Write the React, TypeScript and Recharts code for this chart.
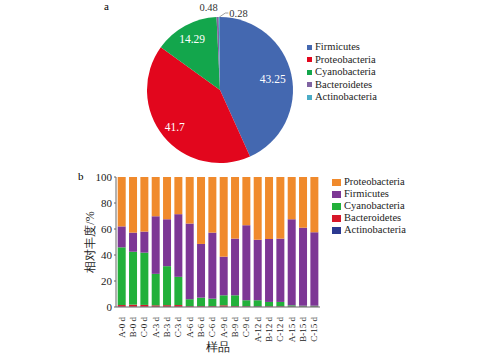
import { PieChart, Pie, Cell, BarChart, Bar, XAxis, YAxis, Legend } from 'recharts';

// panel a: whole-period phylum share (%)
const pieNames = ['Firmicutes', 'Proteobacteria', 'Cyanobacteria', 'Bacteroidetes', 'Actinobacteria'];
const pieValues = [43.25, 41.7, 14.29, 0.48, 0.28];
const pieColors = ['#4468b0', '#e2061d', '#13a64c', '#8064a2', '#4bacc6'];

// panel b: per-sample relative abundance (%)
const samples = [
  'A-0 d', 'B-0 d', 'C-0 d', 'A-3 d', 'B-3 d', 'C-3 d', 'A-6 d', 'B-6 d', 'C-6 d',
  'A-9 d', 'B-9 d', 'C-9 d', 'A-12 d', 'B-12 d', 'C-12 d', 'A-15 d', 'B-15 d', 'C-15 d',
];
const actino = [0.3, 0.3, 0.3, 0.3, 0.3, 0.3, 0.3, 0.3, 0.3, 0.3, 0.3, 0.3, 0.3, 0.3, 0.3, 0.3, 0.3, 0.3];
const bactero = [1.2, 1.5, 1.3, 1.0, 1.1, 1.2, 0.4, 0.4, 0.4, 1.0, 0.4, 0.3, 0.3, 0.3, 0.3, 0.2, 0.2, 0.2];
const cyano = [44.4, 40.7, 40.2, 24.2, 30.0, 21.7, 5.3, 6.5, 5.7, 7.7, 8.3, 4.6, 4.6, 3.3, 3.3, 0.8, 0.5, 0.5];
const firmi = [16.1, 14.7, 16.2, 44.3, 36.1, 48.2, 58.2, 41.3, 50.8, 29.7, 43.6, 57.7, 46.6, 48.4, 48.7, 66.2, 60.0, 56.5];
const proteo = [38.0, 42.8, 42.0, 30.2, 32.5, 28.6, 35.8, 51.5, 42.8, 61.3, 47.4, 37.1, 48.2, 47.7, 47.4, 32.5, 39.0, 42.5];
const yTicks = [0, 20, 40, 60, 80, 100];

const barSeries = [
  { key: 'Actinobacteria', color: '#2b3990' },
  { key: 'Bacteroidetes', color: '#d7182a' },
  { key: 'Cyanobacteria', color: '#22b03a' },
  { key: 'Firmicutes', color: '#7d3795' },
  { key: 'Proteobacteria', color: '#f08a2c' },
];

const pieData = pieNames.map((name, i) => ({ name, value: pieValues[i], fill: pieColors[i] }));
const barData = samples.map((s, i) => ({
  sample: s,
  Actinobacteria: actino[i],
  Bacteroidetes: bactero[i],
  Cyanobacteria: cyano[i],
  Firmicutes: firmi[i],
  Proteobacteria: proteo[i],
}));

const FONT = '"Liberation Serif", "Times New Roman", serif';
const RAD = Math.PI / 180;

function pieLabel(props: any) {
  const { cx, cy, midAngle, outerRadius, index, value } = props;
  const cos = Math.cos(-midAngle * RAD);
  const sin = Math.sin(-midAngle * RAD);
  if (index < 3) {
    const r = outerRadius * (index === 0 ? 0.74 : 0.8);
    return (
      <text x={cx + r * cos} y={cy + r * sin} fill="#fff" fontSize={11.5} fontFamily={FONT}
        textAnchor="middle" dominantBaseline="central">
        {value}
      </text>
    );
  }
  const px = cx + outerRadius * cos;
  const py = cy + outerRadius * sin;
  if (index === 3) {
    return (
      <text x={px - 9} y={py - 10} fill="#333" fontSize={10.5} fontFamily={FONT}
        textAnchor="middle" dominantBaseline="central">
        {value}
      </text>
    );
  }
  return (
    <g>
      <polyline points={`${px},${py} ${px + 6},${py - 4} ${px + 9},${py - 4}`} stroke="#888" fill="none" strokeWidth={0.8} />
      <text x={px + 10} y={py - 4} fill="#333" fontSize={10.5} fontFamily={FONT} dominantBaseline="central">
        {value}
      </text>
    </g>
  );
}

// legend content keeps the drawing order instead of the default alphabetical sort
function makeLegend(order: string[], box: { w: number; h: number }, lineHeight: number) {
  return function LegendBox({ payload }: any) {
    const items = [...(payload || [])].sort((a: any, b: any) => order.indexOf(a.value) - order.indexOf(b.value));
    return (
      <div style={{ fontFamily: FONT, fontSize: 10.5, color: '#222', lineHeight: `${lineHeight}px` }}>
        {items.map((p: any) => (
          <div key={p.value} style={{ display: 'flex', alignItems: 'center', whiteSpace: 'nowrap' }}>
            <span style={{ width: box.w, height: box.h, background: p.color, marginRight: 3, display: 'inline-block' }} />
            {p.value}
          </div>
        ))}
      </div>
    );
  };
}

const PieLegend = makeLegend(pieNames, { w: 5, h: 5 }, 12.5);
const BarLegend = makeLegend(barSeries.map((s) => s.key).reverse(), { w: 9, h: 7 }, 12);

function SampleTick({ x, y, payload }: any) {
  return (
    <text x={x} y={y + 2} transform={`rotate(-90 ${x} ${y + 2})`} textAnchor="end" dominantBaseline="central"
      fontSize={9} fontFamily={FONT} fill="#222">
      {payload.value}
    </text>
  );
}

function YTitle({ viewBox }: any) {
  const x = viewBox.x + 10;
  const y = viewBox.y + viewBox.height / 2;
  return (
    <text x={x} y={y} transform={`rotate(-90 ${x} ${y})`} textAnchor="middle" dominantBaseline="central"
      fontSize={12} fontFamily={FONT} fill="#222">
      相对丰度/%
    </text>
  );
}

export default function App() {
  return (
    <div style={{ position: 'absolute', left: 0, top: 0, width: 482, height: 355, background: '#fff', fontFamily: FONT }}>
      <div style={{ position: 'absolute', left: 104, top: 0, fontSize: 11 }}>a</div>
      <div style={{ position: 'absolute', left: 78, top: 170, fontSize: 11 }}>b</div>

      <div style={{ position: 'absolute', left: 0, top: 0 }}>
        <PieChart width={482} height={170} margin={{ top: 0, right: 0, bottom: 0, left: 0 }}>
          <Pie
            data={pieData}
            dataKey="value"
            nameKey="name"
            cx={220}
            cy={90}
            outerRadius={73}
            startAngle={90}
            endAngle={-270}
            stroke="none"
            label={pieLabel}
            labelLine={false}
            isAnimationActive={false}
          >
            {pieData.map((d) => (
              <Cell key={d.name} fill={d.fill} />
            ))}
          </Pie>
          <Legend layout="vertical" align="center" verticalAlign="middle" content={<PieLegend />}
            wrapperStyle={{ left: 307, top: 41, width: 120 }} />
        </PieChart>
      </div>

      <div style={{ position: 'absolute', left: 0, top: 0 }}>
        <BarChart width={482} height={355} data={barData} barCategoryGap="15%"
          margin={{ top: 177, right: 162, bottom: 0, left: 80 }}>
          <XAxis dataKey="sample" interval={0} height={48} tick={<SampleTick />} tickLine={false}
            axisLine={{ stroke: '#666' }}
            label={{ value: '样品', position: 'insideBottom', offset: 4, fontSize: 12, fill: '#222', fontFamily: FONT }} />
          <YAxis width={36} domain={[0, 100]} ticks={yTicks} tickSize={2} axisLine={{ stroke: '#666' }}
            tickLine={{ stroke: '#666' }} tick={{ fontSize: 11, fill: '#222', fontFamily: FONT }}
            label={<YTitle />} />
          {barSeries.map((s) => (
            <Bar key={s.key} dataKey={s.key} stackId="a" fill={s.color} isAnimationActive={false} />
          ))}
          <Legend layout="vertical" align="center" verticalAlign="middle" content={<BarLegend />}
            wrapperStyle={{ left: 332, top: 176, width: 120 }} />
        </BarChart>
      </div>
    </div>
  );
}
